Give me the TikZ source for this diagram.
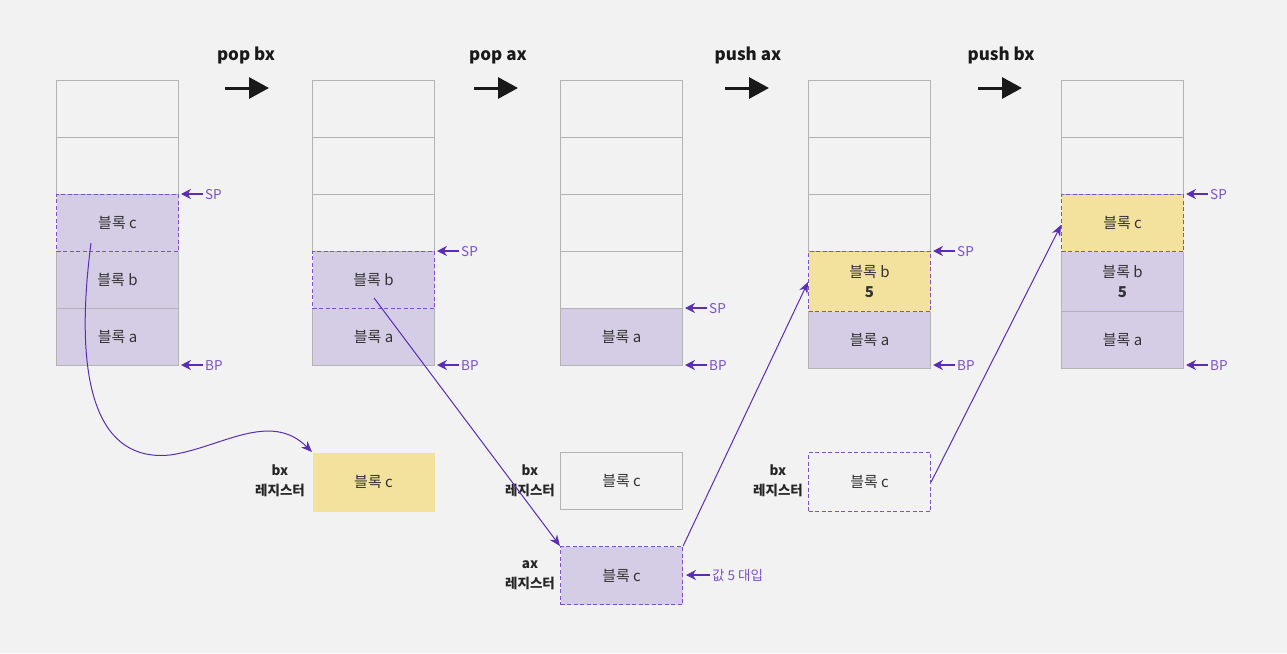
\documentclass[tikz,border=0pt]{standalone}
\usepackage{fontspec}
\setmainfont{Noto Sans CJK KR}
\usetikzlibrary{arrows.meta}
\definecolor{bg}{HTML}{F2F2F2}
\definecolor{gridc}{HTML}{B3B3B3}
\definecolor{purfill}{HTML}{D5CDE5}
\definecolor{yelfill}{HTML}{F2E29E}
\definecolor{purline}{HTML}{7B52C9}
\definecolor{purarrow}{HTML}{5B2DB5}
\definecolor{txt}{HTML}{333333}
\tikzset{
  cell/.style={draw=gridc, line width=1.1pt, minimum width=122pt, minimum height=57pt, inner sep=0pt, anchor=north west, fill=bg, text=txt, font=\fontsize{15}{18}\selectfont},
  pcell/.style={cell, fill=purfill},
  ycell/.style={cell, fill=yelfill},
  dash box/.style={draw=purline, line width=1.1pt, dash pattern=on 4pt off 2.5pt},
  ptr/.style={draw=purarrow, line width=1.2pt, -{Stealth[length=10pt,width=10pt]}},
  ptrlabel/.style={text=purline, anchor=west, inner sep=0pt, font=\fontsize{13.5}{16}\selectfont},
  conn/.style={draw=purarrow, line width=1pt, -{Stealth[length=11pt,width=9pt]}},
  title/.style={font=\bfseries\fontsize{17}{20}\selectfont, text=black!90, inner sep=0pt, anchor=base},
  bigarrow/.style={draw=black!90, line width=3pt, -{Triangle[length=20pt,width=21pt]}},
  reglabel/.style={font=\bfseries\fontsize{13.5}{20}\selectfont, align=center, text=black!85, inner sep=0pt}
}
\begin{document}
\begin{tikzpicture}[x=1pt,y=-1pt]
\useasboundingbox[fill=bg] (0,0) rectangle (1287,653);

% titles and big arrows
\node[title] (t1) at (246,60) {pop bx};
\node[title] (t2) at (498,60) {pop ax};
\node[title] (t3) at (748,60) {push ax};
\node[title] (t4) at (1001,60) {push bx};
\coordinate (a1s) at (225,88); \coordinate (a1e) at (269,88);
\coordinate (a2s) at (474,88); \coordinate (a2e) at (518,88);
\coordinate (a3s) at (725,88); \coordinate (a3e) at (769,88);
\coordinate (a4s) at (978,88); \coordinate (a4e) at (1022,88);
\draw[bigarrow] (a1s) -- (a1e);
\draw[bigarrow] (a2s) -- (a2e);
\draw[bigarrow] (a3s) -- (a3e);
\draw[bigarrow] (a4s) -- (a4e);

% stack 1
\node[cell] (s1a) at (56,80) {};
\node[cell] (s1b) at (56,137) {};
\node[pcell] (s1e) at (56,308) {블록 a};
\node[pcell] (s1d) at (56,251) {블록 b};
\node[pcell, dash box] (s1c) at (56,194) {블록 c};

% stack 2
\node[cell] (s2a) at (312,80) {};
\node[cell] (s2b) at (312,137) {};
\node[cell] (s2c) at (312,194) {};
\node[pcell] (s2e) at (312,308) {블록 a};
\node[pcell, dash box] (s2d) at (312,251) {블록 b};

% stack 3
\node[cell] (s3a) at (560,80) {};
\node[cell] (s3b) at (560,137) {};
\node[cell] (s3c) at (560,194) {};
\node[cell] (s3d) at (560,251) {};
\node[pcell] (s3e) at (560,308) {블록 a};

% stack 4
\node[cell] (s4a) at (808,80) {};
\node[cell] (s4b) at (808,137) {};
\node[cell] (s4c) at (808,194) {};
\node[pcell, minimum height=57pt] (s4e) at (808,311) {블록 a};
\node[ycell, dash box, minimum height=60pt, align=center] (s4d) at (808,251) {블록 b\\[2pt]\textbf{5}};

% stack 5
\node[cell] (s5a) at (1061,80) {};
\node[cell] (s5b) at (1061,137) {};
\node[pcell, minimum height=57pt] (s5e) at (1061,311) {블록 a};
\node[pcell, minimum height=60pt, align=center] (s5d) at (1061,251) {블록 b\\[2pt]\textbf{5}};
\node[ycell, dash box] (s5c) at (1061,194) {블록 c};

% SP / BP pointers
\foreach \nm/\x/\y/\lab in {p1s/178/194/SP, p1b/178/365/BP, p2s/434/251/SP, p2b/434/365/BP, p3s/682/308/SP, p3b/682/365/BP, p4s/930/251/SP, p4b/930/365/BP, p5s/1183/194/SP, p5b/1183/365/BP}{
  \coordinate (\nm t) at (\x+3,\y);
  \coordinate (\nm f) at (\x+25,\y);
  \draw[ptr] (\nm f) -- (\nm t);
  \node[ptrlabel] (\nm l) at (\x+27,\y+0.5) {\lab};
}

% registers
\node[cell, fill=yelfill, draw=none, minimum height=59pt] (r2bx) at (312,452) {블록 c};
\node[reglabel] (l2bx) at (280,481) {bx\\레지스터};

\node[cell] (r3bx) at (560,452) {블록 c};
\node[reglabel] (l3bx) at (530,481) {bx\\레지스터};
\node[pcell, dash box, minimum height=58pt] (r3ax) at (560,546) {블록 c};
\node[reglabel] (l3ax) at (530,575) {ax\\레지스터};
\coordinate (v5t) at (686,575);
\coordinate (v5f) at (710,575);
\draw[ptr] (v5f) -- (v5t);
\node[ptrlabel] (v5l) at (712,575) {값 5 대입};

\node[cell, dash box, fill=none, minimum height=59pt] (r4bx) at (808,452) {블록 c};
\node[reglabel] (l4bx) at (778,481) {bx\\레지스터};

% connectors
\coordinate (c1s) at (91,243);
\coordinate (c1m) at (170,455);
\draw[conn] (c1s) .. controls (72,390) and (100,462) .. (c1m) .. controls (220,448) and (270,410) .. (r2bx.north west);
\coordinate (c2s) at (374,298);
\draw[conn] (c2s) -- (r3ax.north west);
\coordinate (c3e) at (808,282);
\draw[conn] (r3ax.north east) -- (c3e);
\coordinate (c4e) at (1061,225);
\draw[conn] (r4bx.east) -- (c4e);
\end{tikzpicture}
\end{document}
